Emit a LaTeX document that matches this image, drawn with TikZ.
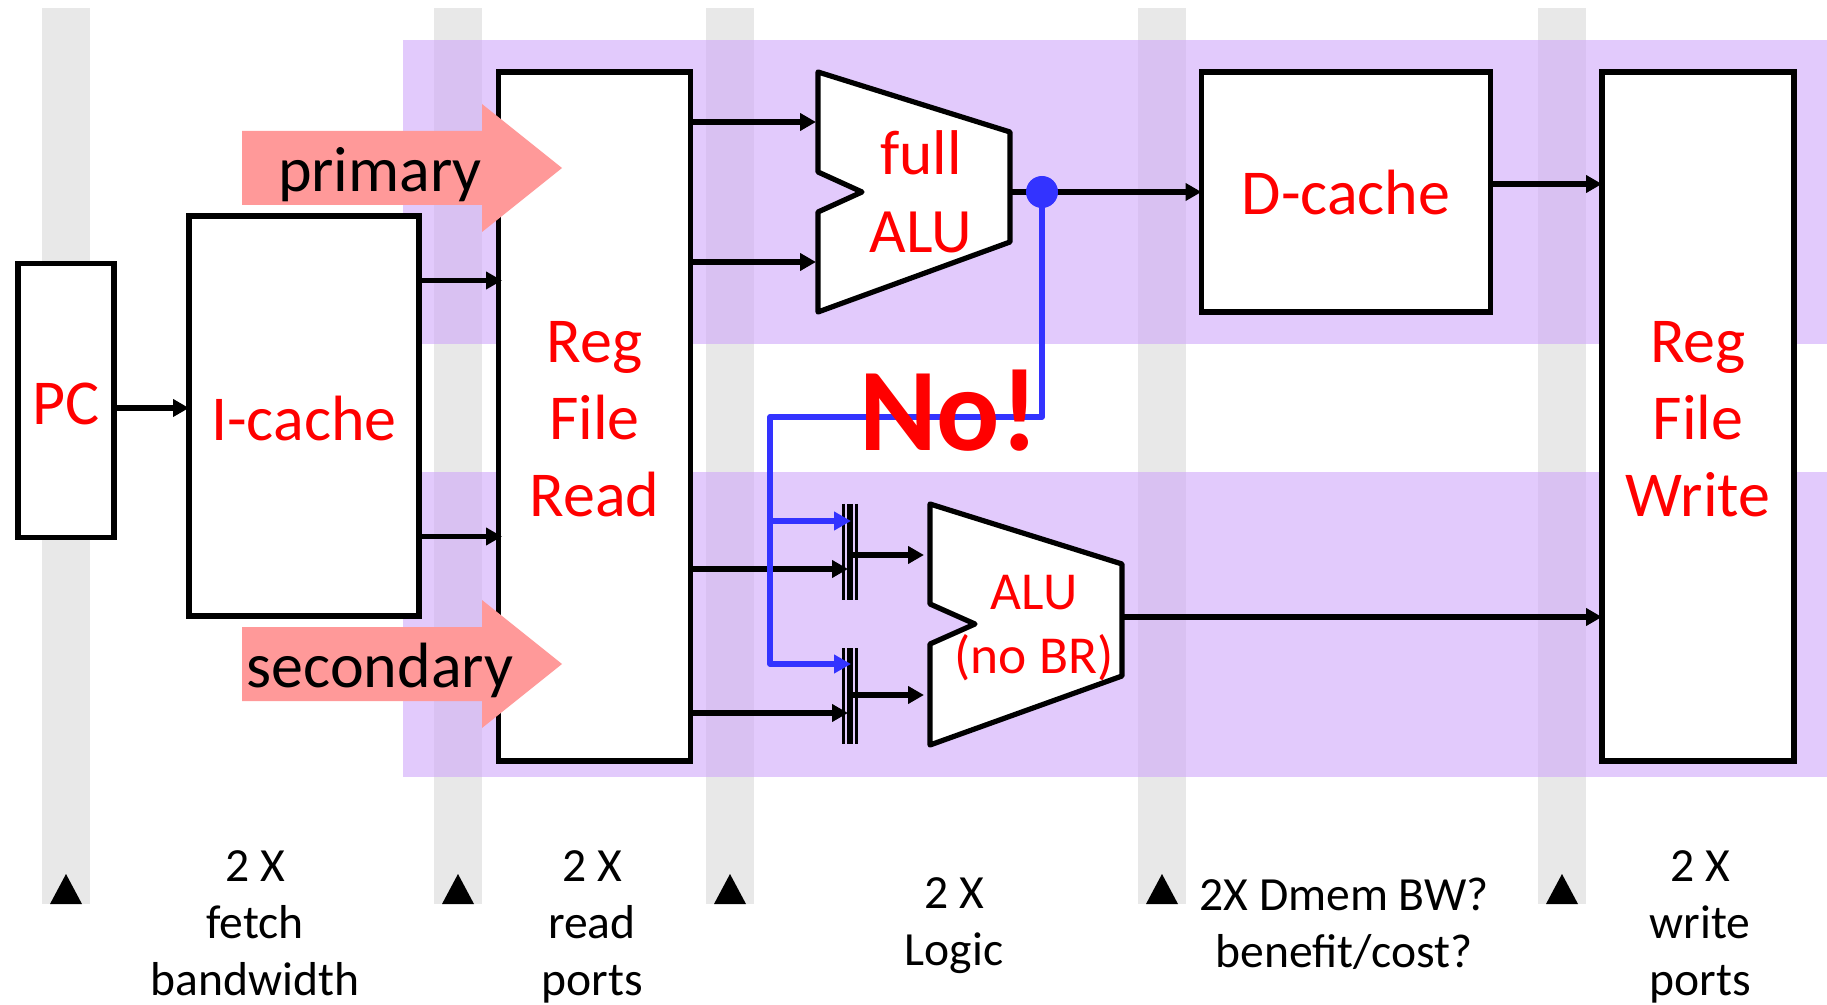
\documentclass[tikz,border=0pt]{standalone}
\usepackage{fontspec}
\setmainfont{Carlito}
\usetikzlibrary{arrows.meta}
\definecolor{barcol}{HTML}{E8E8E8}
\definecolor{bandcol}{RGB}{207,167,250}
\definecolor{redtxt}{HTML}{FF0000}
\definecolor{fwdblue}{HTML}{3333FF}
\definecolor{pinkarr}{HTML}{FF9999}
\tikzset{
	blockbox/.style={draw=black,line width=2.6pt,fill=white,inner sep=0pt,outer sep=0pt,text=redtxt,align=center,font=\fontsize{32}{38.5}\selectfont},
	alubody/.style={draw=black,line width=2.6pt,fill=white,line join=round},
	alutxt/.style={text=redtxt,align=center,inner sep=0pt},
	wire/.style={line width=2.6pt,-{Triangle[length=8pt,width=8.5pt]}},
	fwdwire/.style={draw=fwdblue,line width=2.9pt,line join=round,-{Triangle[length=8.5pt,width=9pt]}},
	lbl/.style={align=center,inner sep=0pt,font=\fontsize{23.8}{28.5}\selectfont},
	pathtxt/.style={inner sep=0pt,font=\fontsize{32}{38}\selectfont},
}
\begin{document}
\begin{tikzpicture}[x=0.5pt,y=-0.5pt]
	\useasboundingbox (0,0) rectangle (1827,1005);
	% stage bars and the two pipes
	\foreach \xc in {66,458,730,1162,1562} {
		\fill[barcol] (\xc-24,8) rectangle (\xc+24,904);
		\fill[black] (\xc-16,904) -- (\xc,874) -- (\xc+16,904) -- cycle;
	}
	\fill[bandcol,opacity=0.6] (403,40) rectangle (1827,344);
	\fill[bandcol,opacity=0.6] (403,472) rectangle (1827,777);
	% blocks
	\node[blockbox,minimum width=48pt,minimum height=137pt] (pc) at (66,400.5) {\rule{0pt}{24pt}PC};
	\node[blockbox,minimum width=115pt,minimum height=200pt] (icache) at (304,416) {\rule{0pt}{24.4pt}I-cache};
	\node[blockbox,minimum width=96pt,minimum height=344.5pt] (regread) at (594.5,416.5) {\rule{0pt}{23.6pt}Reg\\File\\Read};
	\node[blockbox,minimum width=144.5pt,minimum height=120pt] (dcache) at (1346,192) {\rule{0pt}{23.2pt}D-cache};
	\node[blockbox,minimum width=96pt,minimum height=344.5pt] (regwrite) at (1698,416.5) {\rule{0pt}{23.6pt}Reg\\File\\Write};
	% ALUs
	\draw[alubody] (818,72) -- (1010,132) -- (1010,242) -- (818,312) -- (818,212) -- (862,192) -- (818,172) -- cycle;
	\draw[alubody] (930,504) -- (1122,564) -- (1122,676) -- (930,745) -- (930,644) -- (975,624) -- (930,604) -- cycle;
	\node[alutxt,font=\fontsize{31.6}{39}\selectfont] (fullalu) at (921,192) {full\\ALU};
	\node[alutxt,font=\fontsize{26.7}{32}\selectfont] (sndalu) at (1034,628) {ALU\\(no BR)};
	% ports
	\coordinate (fullA) at (816,122);
	\coordinate (fullB) at (816,262);
	\coordinate (fullout) at (1010,192);
	\coordinate (sndA) at (924,555);
	\coordinate (sndB) at (924,695);
	\coordinate (sndout) at (1122,617);
	\coordinate (muxA) at (850,552);
	\coordinate (muxB) at (850,696);
	\coordinate (muxAin) at (848,569);
	\coordinate (muxBin) at (848,713);
	\coordinate (muxAsel) at (851,521);
	\coordinate (muxBsel) at (851,664);
	\coordinate (turn) at (770,417);
	\coordinate (iport) at (502,280.5);
	\coordinate (iportb) at (502,536.5);
	% forwarding muxes
	\foreach \mux in {muxA,muxB} {
		\draw[line width=1.5pt] ([xshift=-3.2pt,yshift=24pt]\mux) -- ([xshift=-3.2pt,yshift=-24pt]\mux);
		\draw[line width=2.6pt] ([yshift=24pt]\mux) -- ([yshift=-24pt]\mux);
		\draw[line width=1.3pt] ([xshift=3.3pt,yshift=24pt]\mux) -- ([xshift=3.3pt,yshift=-24pt]\mux);
	}
	% wires
	\draw[wire] (pc.east |- 0,408) -- (icache.west |- 0,408);
	\draw[wire] (icache.east |- iport) -- (iport);
	\draw[wire] (icache.east |- iportb) -- (iportb);
	\draw[wire] (regread.east |- fullA) -- (fullA);
	\draw[wire] (regread.east |- fullB) -- (fullB);
	\draw[wire] (regread.east |- muxAin) -- (muxAin);
	\draw[wire] (regread.east |- muxBin) -- (muxBin);
	\draw[wire] (muxA |- sndA) -- (sndA);
	\draw[wire] (muxB |- sndB) -- (sndB);
	\draw[wire] (fullout) -- (dcache.west);
	\draw[wire] (dcache.east |- 0,184) -- (regwrite.west |- 0,184);
	\draw[wire] (sndout) -- (regwrite.west |- sndout);
	% forwarding path
	\node[circle,fill=fwdblue,inner sep=0pt,minimum size=16pt] (fwd) at (1042,192) {};
	\draw[fwdwire] (fwd.center) |- (turn) |- (muxBsel);
	\draw[fwdwire] (turn |- muxAsel) -- (muxAsel);
	\node[text=redtxt,inner sep=0pt,font=\fontsize{59}{62}\selectfont\bfseries] (nolbl) at (949,411) {No!};
	% pipe arrows
	\fill[pinkarr] (242,131) -- (482,131) -- (482,104) -- (562,168) -- (482,232) -- (482,205) -- (242,205) -- cycle;
	\fill[pinkarr] (242,627) -- (482,627) -- (482,600) -- (562,664) -- (482,728) -- (482,701) -- (242,701) -- cycle;
	\node[pathtxt] (primary) at (380,174.5) {primary};
	\node[pathtxt] (secondary) at (380,670.5) {secondary};
	% stage labels
	\node[lbl] (fetchlbl) at (255,923) {2 X\\fetch\\bandwidth};
	\node[lbl] (readlbl) at (592,927) {2 X\\read\\ports};
	\node[lbl] (logiclbl) at (954,926) {2 X\\Logic};
	\node[lbl] (dmemlbl) at (1344,924) {2X Dmem BW?\\benefit/cost?};
	\node[lbl] (writelbl) at (1700,927) {2 X\\write\\ports};
\end{tikzpicture}
\end{document}
